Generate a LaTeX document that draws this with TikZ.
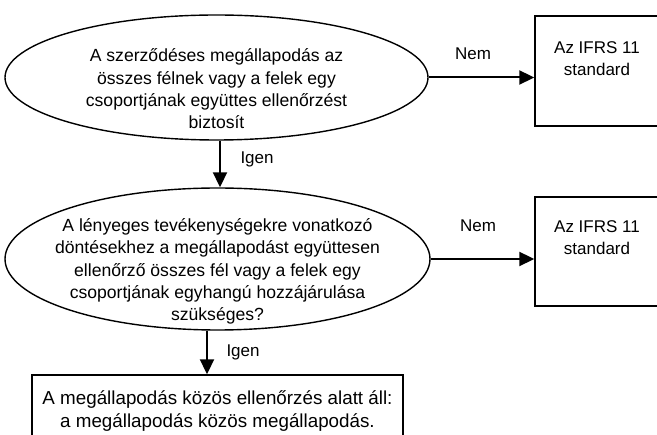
\documentclass[tikz,border=0pt]{standalone}
\usepackage{fontspec}
\setmainfont{Liberation Sans}
\usetikzlibrary{shapes.geometric,arrows.meta,calc}
\begin{document}
\begin{tikzpicture}[x=1pt,y=1pt,
  every node/.style={font=\fontsize{17}{22.3}\selectfont},
  decision/.style={ellipse, draw, line width=1.4pt, inner sep=0pt},
  inner/.style={align=center, anchor=center, inner sep=0pt, font=\fontsize{17.6}{22.3}\selectfont},
  topinner/.style={align=center, anchor=north, inner sep=0pt},
  outbox/.style={draw, line width=1.4pt, minimum width=124pt, minimum height=110pt},
  arr/.style={line width=2pt, -{Triangle[length=15pt,width=14pt]}},
  lbl/.style={inner sep=0pt}]
\useasboundingbox (0,0) rectangle (657,-435);

\node[decision, minimum width=423pt, minimum height=125pt,
  label={[inner, yshift=-11.5pt]center:A szerződéses megállapodás az\\összes félnek vagy a felek egy\\csoportjának együttes ellenőrzést\\biztosít}]
  (e1) at (216.5,-77.5) {};

\node[decision, minimum width=425pt, minimum height=142pt,
  label={[inner, yshift=-12.5pt]center:A lényeges tevékenységekre vonatkozó\\döntésekhez a megállapodást együttesen\\ellenőrző összes fél vagy a felek egy\\csoportjának egyhangú hozzájárulása\\szükséges?}]
  (e2) at (217.5,-259) {};

\node[outbox, label={[topinner, yshift=-26pt]north:Az IFRS 11\\standard}] (b1) at (597,-71) {};
\node[outbox, minimum height=109pt, label={[topinner, yshift=-24pt]north:Az IFRS 11\\standard}] (b2) at (597,-251.5) {};

\node[draw, line width=1.4pt, minimum width=371pt, minimum height=72pt, align=center,
  font=\fontsize{18.8}{23}\selectfont]
  (b3) at (217.5,-411) {A megállapodás közös ellenőrzés alatt áll:\\a megállapodás közös megállapodás.};

\draw[arr] (e1.east) -- (e1.east -| b1.west) node[lbl, pos=0.42, above=16.5pt] {Nem};
\draw[arr] (e2.east) -- (e2.east -| b2.west) node[lbl, pos=0.457, above=26pt] {Nem};

\draw[arr] ($(e1.south)+(3.5,0)$) -- ($(e2.north)+(2.5,0)$) node[lbl, midway, right=19.5pt, yshift=4.5pt] {Igen};
\draw[arr] ($(e2.south)+(-10.5,0)$) -- ($(b3.north)+(-10.5,0)$) node[lbl, midway, right=18.5pt] {Igen};
\end{tikzpicture}
\end{document}
